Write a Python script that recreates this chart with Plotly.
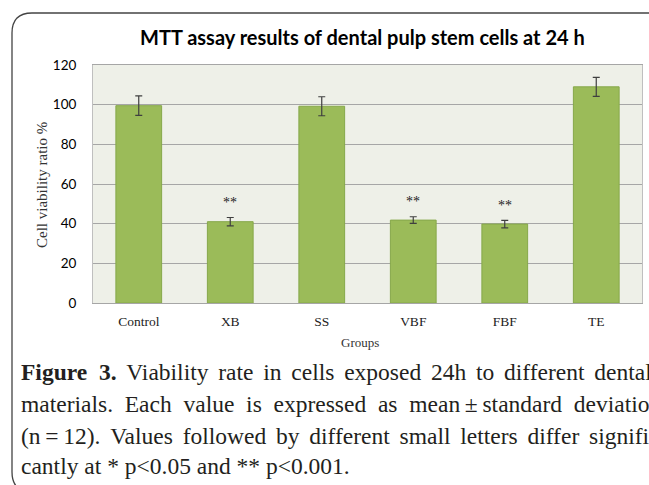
import plotly.graph_objects as go

groups = ["Control", "XB", "SS", "VBF", "FBF", "TE"]
means = [99.5, 41.0, 99.2, 41.8, 39.8, 109.0]
sds = [4.9, 2.1, 4.8, 1.7, 1.9, 4.8]
sig_marks = ["**" if g in ("XB", "VBF", "FBF") else "" for g in groups]
sig_y = [0, 50.5, 0, 51.0, 49.0, 0]
y_ticks = [0, 20, 40, 60, 80, 100, 120]

title_text = "MTT assay results of dental pulp stem cells at 24 h"
y_title = "Cell viability ratio %"
x_title = "Groups"
caption_lines = [
    "<b>Figure\u20023.</b> Viability rate in cells exposed 24h to different dental",
    "materials. Each value is expressed as mean\u2009±\u2009standard deviation",
    "(n\u2009=\u200912). Values followed by different small letters differ signifi-",
    "cantly at * p&lt;0.05 and ** p&lt;0.001.",
]
word_gap = [" \u2006", "\u2002", " \u2006", " "]

W, H = 649, 485
L, R, T, B = 93, 7, 65, 182
PW, PH = W - L - R, H - T - B


def px(x):
    return (x - L) / PW


def py(y):
    return 1 - (y - T) / PH


fig = go.Figure()
fig.add_trace(go.Bar(
    x=groups, y=means,
    marker=dict(color="#9BBB59", line=dict(color="#86A84A", width=1)),
    error_y=dict(type="data", array=sds, visible=True, color="#3F3F3F", thickness=1.2, width=3.5),
    hoverinfo="skip",
))

annotations = []
for g, m, yv in zip(groups, sig_marks, sig_y):
    if m:
        annotations.append(dict(x=g, y=yv, xref="x", yref="y", text=m, showarrow=False,
                                font=dict(family="Liberation Serif", size=14, color="#222"),
                                yanchor="middle"))

annotations.append(dict(x=px(362), y=py(37), xref="paper", yref="paper", text="<b>" + title_text + "</b>",
                        showarrow=False, font=dict(family="Lato", size=20, color="#000"),
                        xanchor="center", yanchor="middle"))
annotations.append(dict(x=px(42), y=py(185), xref="paper", yref="paper", text=y_title, textangle=-90,
                        showarrow=False, font=dict(family="Liberation Serif", size=15, color="#333"),
                        xanchor="center", yanchor="middle"))
annotations.append(dict(x=px(360), y=py(342), xref="paper", yref="paper", text=x_title,
                        showarrow=False, font=dict(family="Liberation Serif", size=13, color="#333"),
                        xanchor="center", yanchor="middle"))
for line, yc, gap in zip(caption_lines, [372, 404, 436, 466], word_gap):
    txt = line.replace(" ", gap)
    annotations.append(dict(x=px(19), y=py(yc), xref="paper", yref="paper", text=txt,
                            showarrow=False, font=dict(family="Liberation Serif", size=23.5, color="#231F20"),
                            xanchor="left", yanchor="middle", align="left"))

# rounded frame
x0, xr = px(12), px(670)
yt, yb = py(13), py(492)
rx, ry = 20 / PW, 20 / PH
path = (f"M {xr},{yt} L {x0+rx},{yt} Q {x0},{yt} {x0},{yt-ry} "
        f"L {x0},{yb+ry} Q {x0},{yb} {x0+rx},{yb}")
shapes = [dict(type="path", xref="paper", yref="paper", path=path,
               line=dict(color="#444444", width=1.3))]

fig.update_layout(
    width=W, height=H,
    margin=dict(l=L, r=R, t=T, b=B),
    paper_bgcolor="white",
    plot_bgcolor="#EEF0E8",
    bargap=0.5,
    showlegend=False,
    annotations=annotations,
    shapes=shapes,
    xaxis=dict(showgrid=False, showline=True, linecolor="#A6A6A6", linewidth=1, mirror=True,
               ticks="", tickfont=dict(family="Liberation Serif", size=13.5, color="#222"),
               ticklabelstandoff=6),
    yaxis=dict(range=[0, 120], tickvals=y_ticks, showgrid=True, gridcolor="#A6A6A6", gridwidth=1,
               showline=True, linecolor="#BFBFBF", linewidth=1, mirror=True, zeroline=False,
               ticks="", tickfont=dict(family="Lato", size=13.5, color="#000"),
               ticklabelstandoff=13),
)

fig.write_html("out.html", config={"displayModeBar": False},
               post_script="document.body.style.margin='0';document.body.style.overflow='hidden';")
